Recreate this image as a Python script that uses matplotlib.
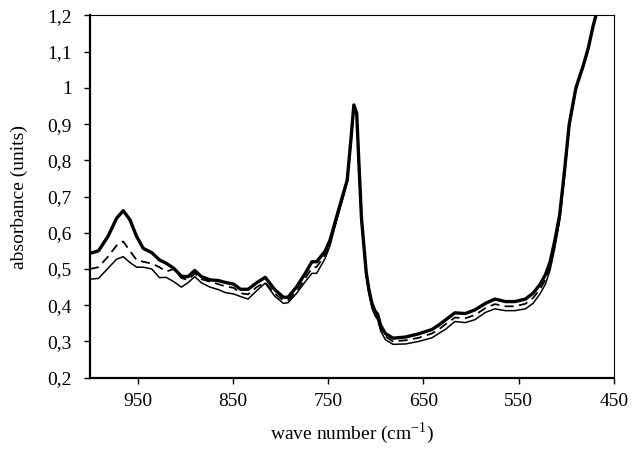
import numpy as np
import matplotlib
matplotlib.use('Agg')
import matplotlib.pyplot as plt
from matplotlib.ticker import FuncFormatter

plt.rcParams['font.family'] = ['Liberation Serif', 'DejaVu Serif']
plt.rcParams['mathtext.fontset'] = 'custom'
plt.rcParams['mathtext.rm'] = 'Liberation Serif'

# wave numbers (cm-1)
wn = [1000, 991, 981, 972, 965, 958, 951, 944, 935, 927, 920, 912, 904, 897, 890,
      883, 874, 865, 858, 849, 842, 834, 825, 816, 806, 797, 792, 783, 774, 767,
      762, 753, 748, 741, 735, 730, 726, 723, 720, 718, 715, 710, 707, 704, 701,
      698, 695, 690, 682, 669, 655, 641, 634, 627, 617, 606, 596, 585, 575, 564,
      554, 543, 535, 528, 522, 517, 512, 507, 502, 497, 490, 482, 477, 472, 468]

thick = [0.543, 0.55, 0.59, 0.64, 0.661, 0.636, 0.59, 0.557, 0.545, 0.525, 0.516, 0.502, 0.48, 0.479, 0.496,
         0.479, 0.47, 0.468, 0.463, 0.458, 0.444, 0.444, 0.462, 0.477, 0.443, 0.422, 0.422, 0.451, 0.488, 0.52,
         0.52, 0.55, 0.58, 0.645, 0.70, 0.745, 0.86, 0.953, 0.93, 0.81, 0.64, 0.49, 0.44, 0.405, 0.385,
         0.375, 0.345, 0.322, 0.309, 0.312, 0.321, 0.333, 0.345, 0.359, 0.379, 0.377, 0.387, 0.405, 0.417, 0.41,
         0.41, 0.417, 0.433, 0.456, 0.484, 0.52, 0.58, 0.65, 0.77, 0.90, 1.0, 1.064, 1.11, 1.17, 1.21]

dashed = [0.50, 0.505, 0.534, 0.565, 0.576, 0.55, 0.525, 0.52, 0.515, 0.505, 0.493, 0.50, 0.475, 0.47, 0.488,
          0.472, 0.465, 0.458, 0.452, 0.448, 0.433, 0.43, 0.45, 0.463, 0.432, 0.413, 0.414, 0.438, 0.475, 0.502,
          0.506, 0.54, 0.572, 0.64, 0.695, 0.742, 0.855, 0.95, 0.925, 0.805, 0.635, 0.485, 0.435, 0.398, 0.378,
          0.368, 0.338, 0.314, 0.30, 0.303, 0.31, 0.322, 0.333, 0.347, 0.366, 0.364, 0.373, 0.392, 0.403, 0.397,
          0.397, 0.404, 0.42, 0.443, 0.47, 0.508, 0.568, 0.64, 0.76, 0.895, 0.997, 1.062, 1.108, 1.168, 1.21]

thin = [0.472, 0.474, 0.502, 0.527, 0.534, 0.518, 0.505, 0.505, 0.50, 0.476, 0.477, 0.465, 0.45, 0.462, 0.479,
        0.462, 0.45, 0.443, 0.435, 0.431, 0.424, 0.417, 0.44, 0.461, 0.425, 0.405, 0.407, 0.433, 0.465, 0.488,
        0.488, 0.53, 0.565, 0.635, 0.69, 0.74, 0.85, 0.948, 0.92, 0.80, 0.63, 0.48, 0.43, 0.392, 0.372,
        0.36, 0.33, 0.305, 0.292, 0.293, 0.30, 0.31, 0.322, 0.333, 0.355, 0.352, 0.36, 0.38, 0.39, 0.385,
        0.385, 0.39, 0.405, 0.43, 0.458, 0.498, 0.56, 0.635, 0.755, 0.89, 0.995, 1.06, 1.107, 1.167, 1.21]

fig = plt.figure(figsize=(6.33, 4.55), dpi=100)
ax = fig.add_axes([0.142, 0.17, 0.828, 0.796])

ax.plot(wn, thin, color='black', lw=1.1)
ax.plot(wn, dashed, color='black', lw=1.3, dashes=(5, 3))
ax.plot(wn, thick, color='black', lw=2.4)

ax.set_xlim(1000, 450)
ax.set_ylim(0.2, 1.2)
ax.set_xticks([950, 850, 750, 650, 550, 450])
ax.set_yticks(np.arange(0.2, 1.21, 0.1))
ax.yaxis.set_major_formatter(FuncFormatter(lambda v, p: f'{v:.1f}'.rstrip('0').rstrip('.').replace('.', ',')))

ax.tick_params(direction='out', length=4, width=1, labelsize=14, colors='black')
ax.tick_params(axis='x', pad=7)
ax.tick_params(axis='y', pad=9)
for s in ['left', 'bottom']:
    ax.spines[s].set_linewidth(1.6)
for s in ['top', 'right']:
    ax.spines[s].set_linewidth(0.8)

ax.set_xlabel('wave number (cm$^{\\mathrm{-1}}$)', fontsize=14)
ax.set_ylabel('absorbance (units)', fontsize=14)
ax.yaxis.set_label_coords(-0.118, 0.5)
ax.xaxis.set_label_coords(0.5, -0.118)

fig.savefig('out.png', dpi=100)
